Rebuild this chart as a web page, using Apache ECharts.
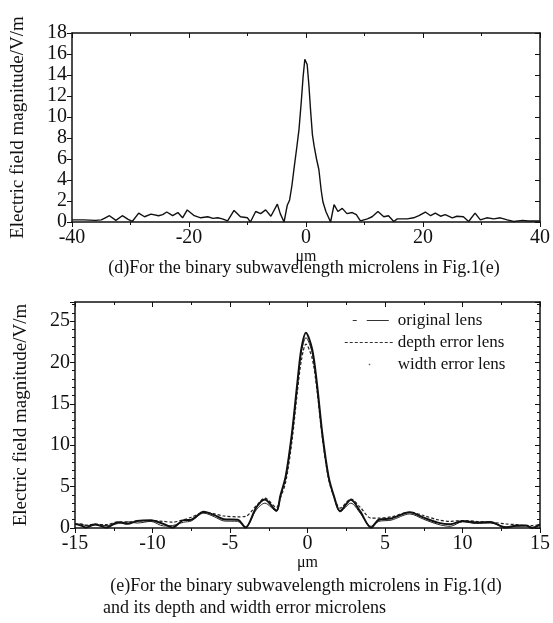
<!DOCTYPE html>
<html>
<head>
<meta charset="utf-8">
<script src="https://cdn.jsdelivr.net/npm/echarts@6/dist/echarts.min.js"></script>
<style>
  html, body { margin: 0; padding: 0; background: #fff; }
  #main { width: 553px; height: 623px; }
</style>
</head>
<body>
<div id="main"></div>
<script>
// (d) single microlens, -40..40 um
const topX = [-40, -38, -36, -35, -34.3, -33.6, -32.5, -31.4, -30.4, -29.7, -28.6, -27.6, -26.5, -25.2, -24.5, -23.8,
  -22.8, -21.9, -21.1, -20.3, -19.1, -18, -16.8, -15.9, -15.1, -14.3, -13.4, -12.3, -11.2, -10, -9.5, -8.6, -7.75,
  -6.9, -6, -4.9, -4.4, -3.75, -3.2, -2.8, -2.4, -2, -1.6, -1.2, -0.8, -0.5, -0.2, -0.05, 0.2, 0.5, 0.8, 1.1, 1.4,
  1.8, 2.2, 2.6, 2.9, 3.4, 3.8, 4.2, 4.8, 5.45, 6.2, 7, 7.9, 8.6, 9.3, 10.5, 11.3, 12.3, 13.3, 14.1, 15, 15.6, 17.3,
  18.4, 19.3, 20.4, 21.3, 22.1, 23, 23.8, 25, 25.8, 26.9, 27.8, 28.9, 29.8, 30.9, 32.1, 33.2, 34.4, 35.5, 37, 38, 40];
const topY = [0.2, 0.2, 0.15, 0.2, 0.4, 0.6, 0.15, 0.6, 0.25, 0.05, 0.85, 0.5, 0.75, 0.6, 0.7, 0.95,
  0.6, 0.9, 0.4, 1.15, 0.6, 0.4, 0.5, 0.35, 0.4, 0.3, 0.1, 1.1, 0.5, 0.4, 0.0, 1.0, 0.8,
  1.15, 0.55, 1.7, 0.8, 0.0, 1.6, 2.1, 3.5, 5.3, 7.0, 8.8, 11.5, 13.8, 15.5, 15.6, 15.0, 13.0, 10.5, 8.3, 7.2,
  6.0, 5.0, 3.0, 1.9, 1.0, 0.5, 0.0, 1.65, 1.0, 1.3, 0.8, 0.9, 0.7, 0.1, 0.3, 0.5, 1.0, 0.5, 0.6, 0.05, 0.3, 0.3,
  0.4, 0.6, 0.95, 0.6, 0.85, 0.55, 0.7, 0.4, 0.55, 0.5, 0.05, 0.85, 0.2, 0.4, 0.3, 0.4, 0.2, 0.05, 0.15, 0.1, 0.1];

// (e) original / depth error / width error, -15..15 um
const botX = [-15, -14.6, -14.3, -13.7, -13, -12.2, -11.6, -11, -10.1, -9.3, -8.7, -8, -7.5, -6.7, -6, -5.4, -4.5,
  -4, -3.3, -2.75, -2, -1.75, -1.4, -1, -0.65, -0.4, -0.1, 0.3, 0.6, 0.95, 1.35, 1.7, 2.1, 2.8, 3.4, 4.1, 4.6, 5.4,
  6.6, 7.5, 8.4, 9.2, 10, 10.9, 11.8, 12.8, 13.5, 14.1, 14.5, 15];
const originalLens = [0.5, 0.3, 0.05, 0.45, 0.05, 0.7, 0.5, 0.85, 0.95, 0.5, 0.05, 0.95, 1.0, 1.95, 1.55, 1.05, 1.0,
  0.05, 2.5, 3.45, 2.1, 3.9, 6.3, 11.5, 17.6, 21.6, 23.6, 21.6, 17.6, 11.5, 6.3, 3.9, 2.05, 3.4, 2.0, 0.05, 1.0, 1.15,
  1.9, 1.25, 0.65, 0.45, 0.85, 0.65, 0.72, 0.05, 0.3, 0.3, 0.0, 0.45];
const depthError = [0.5, 0.45, 0.35, 0.45, 0.4, 0.75, 0.7, 0.85, 0.9, 0.8, 0.7, 1.0, 1.3, 1.85, 1.7, 1.45, 1.35,
  1.4, 2.7, 3.6, 2.5, 3.6, 5.6, 10.5, 16.5, 20.2, 22.2, 20.5, 16.8, 11.0, 6.0, 3.8, 2.4, 3.5, 2.5, 1.2, 1.2, 1.35,
  1.9, 1.5, 1.0, 0.8, 0.9, 0.8, 0.7, 0.5, 0.4, 0.3, 0.3, 0.4];
const widthError = [0.4, 0.5, 0.3, 0.35, 0.3, 0.55, 0.75, 0.6, 0.8, 0.25, 0.3, 0.7, 0.85, 1.8, 1.35, 0.85, 0.8,
  0.15, 2.2, 3.0, 2.0, 3.8, 6.2, 11.3, 17.3, 21.2, 23.0, 21.2, 17.3, 11.3, 6.2, 3.8, 1.95, 3.0, 1.8, 0.2, 0.8, 0.95,
  1.7, 1.05, 0.45, 0.2, 0.75, 0.55, 0.6, 0.15, 0.2, 0.25, 0.1, 0.3];

const serif = '"Liberation Serif", "DejaVu Serif", serif';
const ink = '#111';

function pairs(xs, ys) {
  return xs.map((x, i) => [x, ys[i]]);
}

// one frame side of a plot: bottom/left carry labels, top/right only ticks pointing in
function xSide(grid, min, max, interval, pos, extra) {
  return Object.assign({
    gridIndex: grid, type: 'value', min: min, max: max, interval: interval, position: pos,
    axisLine: { onZero: false, lineStyle: { color: ink, width: 1.5 } },
    axisTick: { show: true, inside: pos === 'top', length: 5, lineStyle: { color: ink } },
    minorTick: { show: true, splitNumber: 2, length: 3, lineStyle: { color: ink } },
    axisLabel: { show: pos === 'bottom', color: ink, fontFamily: serif, fontSize: 20, margin: 6 },
    splitLine: { show: false },
  }, extra || {});
}
function ySide(grid, min, max, interval, pos, minorSplit, extra) {
  return Object.assign({
    gridIndex: grid, type: 'value', min: min, max: max, interval: interval, position: pos,
    axisLine: { onZero: false, lineStyle: { color: ink, width: 1.5 } },
    axisTick: { show: true, inside: pos === 'right', length: 5, lineStyle: { color: ink } },
    minorTick: { show: minorSplit > 0, splitNumber: minorSplit || 1, length: 3, lineStyle: { color: ink } },
    axisLabel: { show: pos === 'left', color: ink, fontFamily: serif, fontSize: 20, margin: 5, showMaxLabel: max % interval === 0 },
    splitLine: { show: false },
  }, extra || {});
}

const yName = {
  name: 'Electric field magnitude/V/m', nameLocation: 'middle', nameGap: 44,
  nameTextStyle: { color: ink, fontFamily: serif, fontSize: 19 },
};
const xName = {
  name: 'μm', nameLocation: 'middle', nameGap: 24,
  nameTextStyle: { color: ink, fontFamily: serif, fontSize: 16 },
};

const chart = echarts.init(document.getElementById('main'), null, { renderer: 'canvas' });
chart.setOption({
  backgroundColor: '#fff',
  animation: false,
  grid: [
    { left: 72, right: 12, top: 33, height: 189 },
    { left: 75, right: 8, top: 302, height: 226 },
  ],
  xAxis: [
    xSide(0, -40, 40, 20, 'bottom', xName),
    xSide(0, -40, 40, 20, 'top'),
    xSide(1, -15, 15, 5, 'bottom', xName),
    xSide(1, -15, 15, 5, 'top'),
  ],
  yAxis: [
    ySide(0, 0, 18, 2, 'left', 0, yName),
    ySide(0, 0, 18, 2, 'right', 0),
    ySide(1, 0, 27.3, 5, 'left', 5, yName),
    ySide(1, 0, 27.3, 5, 'right', 5),
  ],
  legend: {
    orient: 'vertical', left: 344, top: 312, padding: 0, itemGap: 5,
    itemWidth: 48, itemHeight: 14,
    itemStyle: { opacity: 0, borderWidth: 0 },
    textStyle: { color: ink, fontFamily: serif, fontSize: 17 },
    data: [
      { name: 'original lens', lineStyle: { type: [4, 10, 22, 12], dashOffset: 40, width: 1.2, color: '#333' } },
      { name: 'depth error lens', lineStyle: { type: [3, 2], width: 1, color: '#333' } },
      { name: 'width error lens', lineStyle: { type: [1.5, 60], dashOffset: -24, width: 1.5, color: '#666' } },
    ],
  },
  graphic: [
    { type: 'text', x: 304, y: 268, style: { text: '(d)For the binary subwavelength microlens in Fig.1(e)', font: '18px ' + serif, fill: ink, textAlign: 'center', textVerticalAlign: 'middle' } },
    { type: 'text', x: 306, y: 586, style: { text: '(e)For the binary subwavelength microlens in Fig.1(d)', font: '18px ' + serif, fill: ink, textAlign: 'center', textVerticalAlign: 'middle' } },
    { type: 'text', x: 103, y: 608, style: { text: 'and its depth and width error microlens', font: '18px ' + serif, fill: ink, textAlign: 'left', textVerticalAlign: 'middle' } },
  ],
  series: [
    {
      type: 'line', xAxisIndex: 0, yAxisIndex: 0, data: pairs(topX, topY),
      symbol: 'none', itemStyle: { color: ink }, lineStyle: { color: ink, width: 1.4 },
    },
    {
      name: 'width error lens', type: 'line', xAxisIndex: 2, yAxisIndex: 2, data: pairs(botX, widthError),
      symbol: 'none', smooth: 0.3, itemStyle: { color: ink }, lineStyle: { color: '#222', width: 1 },
    },
    {
      name: 'depth error lens', type: 'line', xAxisIndex: 2, yAxisIndex: 2, data: pairs(botX, depthError),
      symbol: 'none', smooth: 0.3, itemStyle: { color: ink }, lineStyle: { color: '#222', width: 1.2, type: [3, 2] },
    },
    {
      name: 'original lens', type: 'line', xAxisIndex: 2, yAxisIndex: 2, data: pairs(botX, originalLens),
      symbol: 'none', smooth: 0.3, itemStyle: { color: ink }, lineStyle: { color: ink, width: 2 },
    },
  ],
});
</script>
</body>
</html>
